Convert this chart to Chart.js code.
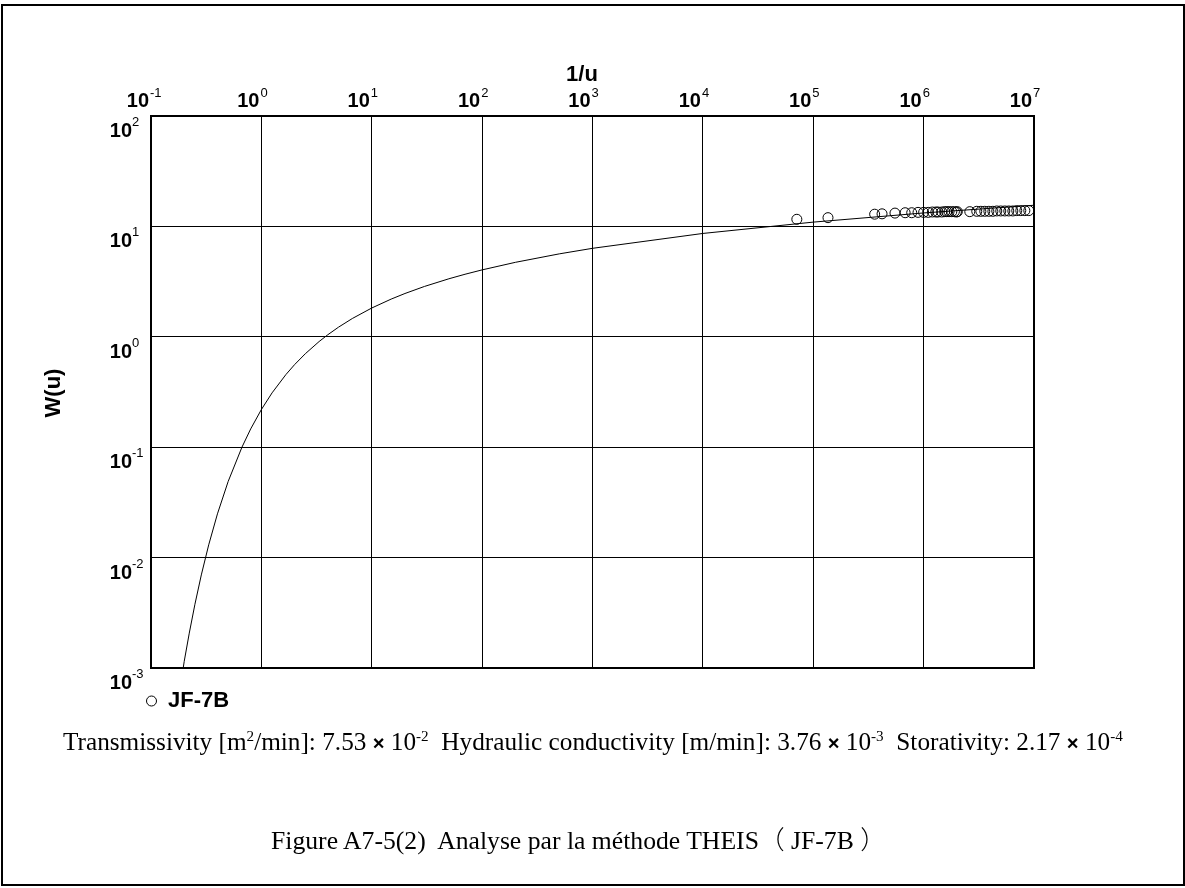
<!DOCTYPE html>
<html>
<head>
  <title>Analyse THEIS JF-7B</title>
  <script src="https://cdn.jsdelivr.net/npm/chart.js"></script>
  <style>
    body { margin: 0; background: #fff; }
    #frame { position: absolute; left: 1px; top: 4px; width: 1180px; height: 878px; border: 2px solid #000; }
    #wrap { position: absolute; left: 0; top: 0; width: 1185px; height: 888px; }
    .serif { position: absolute; font-family: "Liberation Serif", "Times New Roman", serif; white-space: pre; color: #000; line-height: 1; }
    .serif sup { font-size: 0.6em; vertical-align: 0.6em; line-height: 0; }
    .times { font-family: "Liberation Sans", Arial, sans-serif; font-weight: bold; font-size: 0.8em; }
    .fw { font-family: "Noto Sans CJK JP", sans-serif; font-weight: 300; }
    #params { left: 63px; top: 729px; font-size: 20px; }
    #caption { left: 271px; top: 825px; font-size: 26px; }
  </style>
</head>
<body>
  <div id="frame"></div>
  <div id="wrap"><canvas id="theis-chart" width="1185" height="888"></canvas></div>
  <div id="params" class="serif">Transmissivity [m<sup>2</sup>/min]: 7.53 <span class="times">×</span> 10<sup>-2</sup>  Hydraulic conductivity [m/min]: 3.76 <span class="times">×</span> 10<sup>-3</sup>  Storativity: 2.17 <span class="times">×</span> 10<sup>-4</sup></div>
  <div id="caption" class="serif">Figure A7-5(2)  Analyse par la méthode THEIS<span class="fw">（</span> JF-7B <span class="fw">）</span></div>
  <script>
    // decade ticks (exponents)
    const xTickExp = [-1, 0, 1, 2, 3, 4, 5, 6, 7];
    const yTickExp = [-3, -2, -1, 0, 1, 2];

    // type curve W(u), x = 1/u
    const curveInvU = [0.19, 0.2, 0.2222, 0.25, 0.2857, 0.3333, 0.4, 0.5, 0.6667, 0.8, 1, 1.25, 1.6667, 2, 2.5, 3.333, 4, 5, 6.667, 10, 15, 20, 30, 50, 70, 100, 200, 500, 1000, 1e4, 1e5, 1e6, 1e7];
    const curveW    = [0.00082, 0.00115, 0.00207, 0.00378, 0.00697, 0.01305, 0.0249, 0.0489, 0.1, 0.1464, 0.2194, 0.3106, 0.4544, 0.5598, 0.7024, 0.9057, 1.044, 1.2227, 1.4645, 1.8229, 2.196, 2.4679, 2.857, 3.3547, 3.685, 4.0379, 4.7261, 5.6394, 6.3315, 8.6332, 10.9357, 13.2383, 15.5409];

    // observed points JF-7B
    const obsInvU = [7.1e4, 1.36e5, 3.6e5, 4.2e5, 5.5e5, 6.8e5, 7.8e5, 8.9e5, 1.0e6, 1.1e6, 1.2e6, 1.29e6, 1.35e6, 1.46e6, 1.55e6, 1.62e6, 1.7e6, 1.8e6, 1.9e6, 1.98e6, 2.02e6, 2.62e6, 3.03e6, 3.3e6, 3.58e6, 3.9e6, 4.24e6, 4.6e6, 5.0e6, 5.44e6, 5.91e6, 6.43e6, 6.98e6, 7.59e6, 8.26e6, 8.97e6];
    const obsW    = [11.6, 12.0, 12.9, 13.0, 13.2, 13.3, 13.3, 13.4, 13.4, 13.4, 13.5, 13.5, 13.5, 13.5, 13.6, 13.6, 13.6, 13.6, 13.6, 13.5, 13.6, 13.6, 13.7, 13.7, 13.7, 13.7, 13.7, 13.8, 13.8, 13.8, 13.8, 13.8, 13.9, 13.9, 13.9, 13.9];

    const wellName = 'JF-7B';

    const labelsPlugin = {
      id: 'labels',
      afterDraw(chart) {
        const ctx = chart.ctx;
        const a = chart.chartArea;
        const xs = chart.scales.x, ys = chart.scales.y;
        ctx.save();
        ctx.strokeStyle = '#000';
        ctx.lineWidth = 2;
        ctx.strokeRect(a.left, a.top, a.right - a.left, a.bottom - a.top);

        ctx.fillStyle = '#000';
        ctx.textBaseline = 'alphabetic';
        xTickExp.forEach(e => {
          const px = xs.getPixelForValue(Math.pow(10, e));
          ctx.font = 'bold 20px "Liberation Sans", Arial, sans-serif';
          ctx.textAlign = 'right';
          ctx.fillText('10', px - 2, a.top - 9);
          ctx.font = '13px "Liberation Sans", Arial, sans-serif';
          ctx.textAlign = 'left';
          ctx.fillText(String(e), px - 1, a.top - 19);
        });
        yTickExp.forEach(e => {
          const py = ys.getPixelForValue(Math.pow(10, e));
          ctx.font = 'bold 20px "Liberation Sans", Arial, sans-serif';
          ctx.textAlign = 'right';
          ctx.fillText('10', a.left - 19, py + 21);
          ctx.font = '13px "Liberation Sans", Arial, sans-serif';
          ctx.textAlign = 'left';
          ctx.fillText(String(e), a.left - 19, py + 10);
        });

        // axis titles
        ctx.font = 'bold 22px "Liberation Sans", Arial, sans-serif';
        ctx.textAlign = 'center';
        ctx.fillText('1/u', 582, 81);
        ctx.save();
        ctx.translate(60, 393);
        ctx.rotate(-Math.PI / 2);
        ctx.fillText('W(u)', 0, 0);
        ctx.restore();

        // legend
        ctx.lineWidth = 1;
        ctx.beginPath();
        ctx.arc(a.left + 0.5, 701, 5, 0, Math.PI * 2);
        ctx.stroke();
        ctx.font = 'bold 22px "Liberation Sans", Arial, sans-serif';
        ctx.textAlign = 'left';
        ctx.fillText(wellName, 168, 707);
        ctx.restore();
      }
    };

    const ctx = document.getElementById('theis-chart').getContext('2d');
    const chart = new Chart(ctx, {
      type: 'scatter',
      data: {
        datasets: [{
          label: 'W(u)',
          data: curveInvU.map((v, i) => ({x: v, y: curveW[i]})),
          showLine: true,
          borderColor: '#000',
          borderWidth: 1,
          pointRadius: 0,
          fill: false
        },
        {
          label: wellName,
          data: obsInvU.map((v, i) => ({x: v, y: obsW[i]})),
          showLine: false,
          pointStyle: 'circle',
          pointRadius: 5,
          pointBorderWidth: 1,
          borderColor: '#000',
          backgroundColor: 'rgba(0,0,0,0)'
        }]
      },
      options: {
        responsive: false,
        animation: false,
        layout: { padding: { left: 151, top: 116, right: 151, bottom: 220 } },
        plugins: { legend: { display: false }, tooltip: { enabled: false } },
        scales: {
          x: {
            type: 'logarithmic',
            position: 'top',
            min: 0.1,
            max: 1e7,
            afterBuildTicks: s => { s.ticks = xTickExp.map(e => ({value: Math.pow(10, e)})); },
            ticks: { display: false },
            grid: { color: '#000', lineWidth: 1, drawTicks: false },
            border: { display: false }
          },
          y: {
            type: 'logarithmic',
            min: 1e-3,
            max: 1e2,
            afterBuildTicks: s => { s.ticks = yTickExp.map(e => ({value: Math.pow(10, e)})); },
            ticks: { display: false },
            grid: { color: '#000', lineWidth: 1, drawTicks: false },
            border: { display: false }
          }
        }
      },
      plugins: [labelsPlugin]
    });

    // fit the text lines to the widths they take in the figure
    function fitWidth(id, target) {
      const el = document.getElementById(id);
      const w = el.getBoundingClientRect().width;
      const fs = parseFloat(getComputedStyle(el).fontSize);
      el.style.fontSize = (fs * target / w).toFixed(2) + 'px';
    }
    fitWidth('params', 1060);
    fitWidth('caption', 615);
  </script>
</body>
</html>
